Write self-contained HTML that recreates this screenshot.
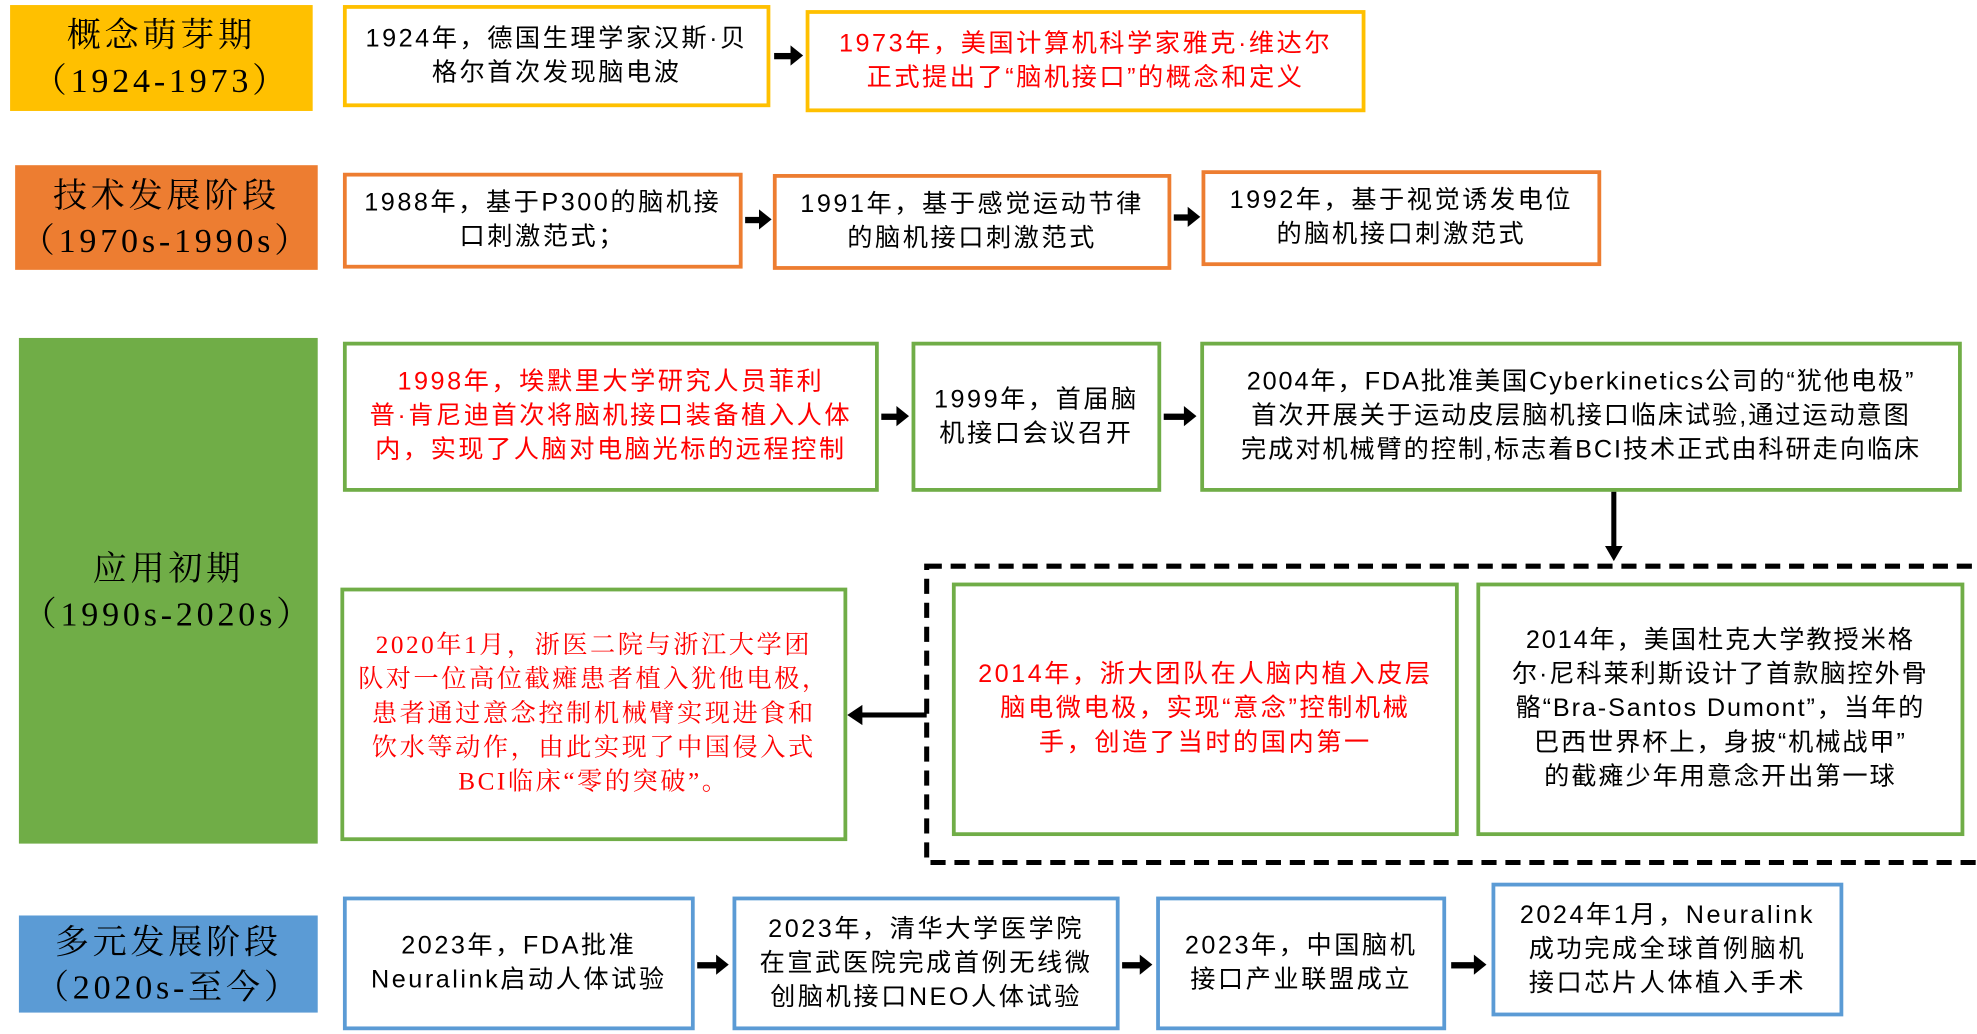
<!DOCTYPE html>
<html><head><meta charset="utf-8"><style>
html,body{margin:0;padding:0;background:#fff;width:1977px;height:1034px;overflow:hidden}
#w{position:absolute;left:0;top:0;width:1568px;height:820px;transform:scale(1.2608,1.261);transform-origin:0 0}
.b{position:absolute;box-sizing:border-box;border:3px solid;background:#fff;display:flex;flex-direction:column;align-items:center;justify-content:center;text-align:center;font-family:"Liberation Sans","Noto Sans CJK SC",sans-serif;font-size:20px;line-height:27px;letter-spacing:2px;color:#000}
.b span{display:block;white-space:nowrap}
.r{color:#f00}
.s{position:absolute;display:flex;flex-direction:column;align-items:center;justify-content:center;text-align:center;font-family:"Liberation Serif","Noto Serif CJK SC",serif;font-size:27px;line-height:36px;letter-spacing:3px;color:#000}
.y{border-color:#FFC000}.o{border-color:#ED7D31}.g{border-color:#70AD47}.u{border-color:#5B9BD5}
.ar{position:absolute;height:5px;background:#000}
.ar:after{content:"";position:absolute;right:-8px;top:-6px;border-left:10px solid #000;border-top:8.5px solid transparent;border-bottom:8.5px solid transparent}
</style></head><body><div id="w">
<div class="s" style="left:8px;top:4px;width:240px;height:84px;background:#FFC000"><span>概念萌芽期</span><span>（1924-1973）</span></div>
<div class="b y" style="left:272px;top:4px;width:339px;height:81px"><span>1924年，德国生理学家汉斯·贝</span><span>格尔首次发现脑电波</span></div>
<div class="ar" style="left:614px;top:42px;width:15px"></div>
<div class="b y r" style="left:639px;top:8px;width:444px;height:81px"><span>1973年，美国计算机科学家雅克·维达尔</span><span>正式提出了“脑机接口”的概念和定义</span></div>

<div class="s" style="left:12px;top:131px;width:240px;height:83px;background:#ED7D31"><span>技术发展阶段</span><span>（1970s-1990s）</span></div>
<div class="b o" style="left:272px;top:137px;width:317px;height:76px"><span>1988年，基于P300的脑机接</span><span>口刺激范式；</span></div>
<div class="ar" style="left:591px;top:172px;width:13px"></div>
<div class="b o" style="left:613px;top:138px;width:316px;height:76px"><span>1991年，基于感觉运动节律</span><span>的脑机接口刺激范式</span></div>
<div class="ar" style="left:931px;top:170px;width:13px"></div>
<div class="b o" style="left:953px;top:135px;width:317px;height:76px"><span>1992年，基于视觉诱发电位</span><span>的脑机接口刺激范式</span></div>

<div class="s" style="left:15px;top:268px;width:237px;height:401px;background:#70AD47"><span>应用初期</span><span>（1990s-2020s）</span></div>
<div class="b g r" style="left:272px;top:271px;width:425px;height:119px"><span>1998年，埃默里大学研究人员菲利</span><span>普·肯尼迪首次将脑机接口装备植入人体</span><span>内，实现了人脑对电脑光标的远程控制</span></div>
<div class="ar" style="left:699px;top:328px;width:14px"></div>
<div class="b g" style="left:723px;top:271px;width:198px;height:119px"><span>1999年，首届脑</span><span>机接口会议召开</span></div>
<div class="ar" style="left:923px;top:328px;width:18px"></div>
<div class="b g" style="left:952px;top:271px;width:604px;height:119px;letter-spacing:1.5px"><span>2004年，FDA批准美国Cyberkinetics公司的“犹他电极”</span><span>首次开展关于运动皮层脑机接口临床试验,通过运动意图</span><span>完成对机械臂的控制,标志着BCI技术正式由科研走向临床</span></div>
<div style="position:absolute;left:1278px;top:390px;width:4px;height:46px;background:#000"></div>
<div style="position:absolute;left:1273px;top:433px;border-top:12px solid #000;border-left:7px solid transparent;border-right:7px solid transparent"></div>
<svg style="position:absolute;left:0;top:0" width="1568" height="820"><rect x="735" y="449" width="840" height="235" fill="none" stroke="#000" stroke-width="4" stroke-dasharray="12,7"/></svg>
<div class="b g r" style="left:755px;top:462px;width:402px;height:201px"><span>2014年，浙大团队在人脑内植入皮层</span><span>脑电微电极，实现“意念”控制机械</span><span>手，创造了当时的国内第一</span></div>
<div class="b g" style="left:1171px;top:462px;width:387px;height:201px;letter-spacing:1.5px"><span>2014年，美国杜克大学教授米格</span><span>尔·尼科莱利斯设计了首款脑控外骨</span><span>骼“Bra-Santos Dumont”，当年的</span><span>巴西世界杯上，身披“机械战甲”</span><span>的截瘫少年用意念开出第一球</span></div>
<div style="position:absolute;left:682px;top:565px;width:53px;height:4px;background:#000"></div>
<div style="position:absolute;left:672px;top:559px;border-right:12px solid #000;border-top:8px solid transparent;border-bottom:8px solid transparent"></div>
<div class="b g r" style="left:270px;top:466px;width:402px;height:201px;font-family:'Liberation Serif','Noto Serif CJK SC',serif"><span>2020年1月，浙医二院与浙江大学团</span><span>队对一位高位截瘫患者植入犹他电极，</span><span>患者通过意念控制机械臂实现进食和</span><span>饮水等动作，由此实现了中国侵入式</span><span>BCI临床“零的突破”。</span></div>

<div class="s" style="left:15px;top:726px;width:237px;height:77px;background:#5B9BD5"><span>多元发展阶段</span><span>（2020s-至今）</span></div>
<div class="b u" style="left:272px;top:711px;width:279px;height:106px"><span>2023年，FDA批准</span><span>Neuralink启动人体试验</span></div>
<div class="ar" style="left:553px;top:763px;width:17px"></div>
<div class="b u" style="left:581px;top:711px;width:307px;height:106px"><span>2023年，清华大学医学院</span><span>在宣武医院完成首例无线微</span><span>创脑机接口NEO人体试验</span></div>
<div class="ar" style="left:890px;top:763px;width:16px"></div>
<div class="b u" style="left:917px;top:711px;width:230px;height:106px"><span>2023年，中国脑机</span><span>接口产业联盟成立</span></div>
<div class="ar" style="left:1151px;top:763px;width:20px"></div>
<div class="b u" style="left:1183px;top:700px;width:279px;height:106px"><span>2024年1月，Neuralink</span><span>成功完成全球首例脑机</span><span>接口芯片人体植入手术</span></div>
</div></body></html>
